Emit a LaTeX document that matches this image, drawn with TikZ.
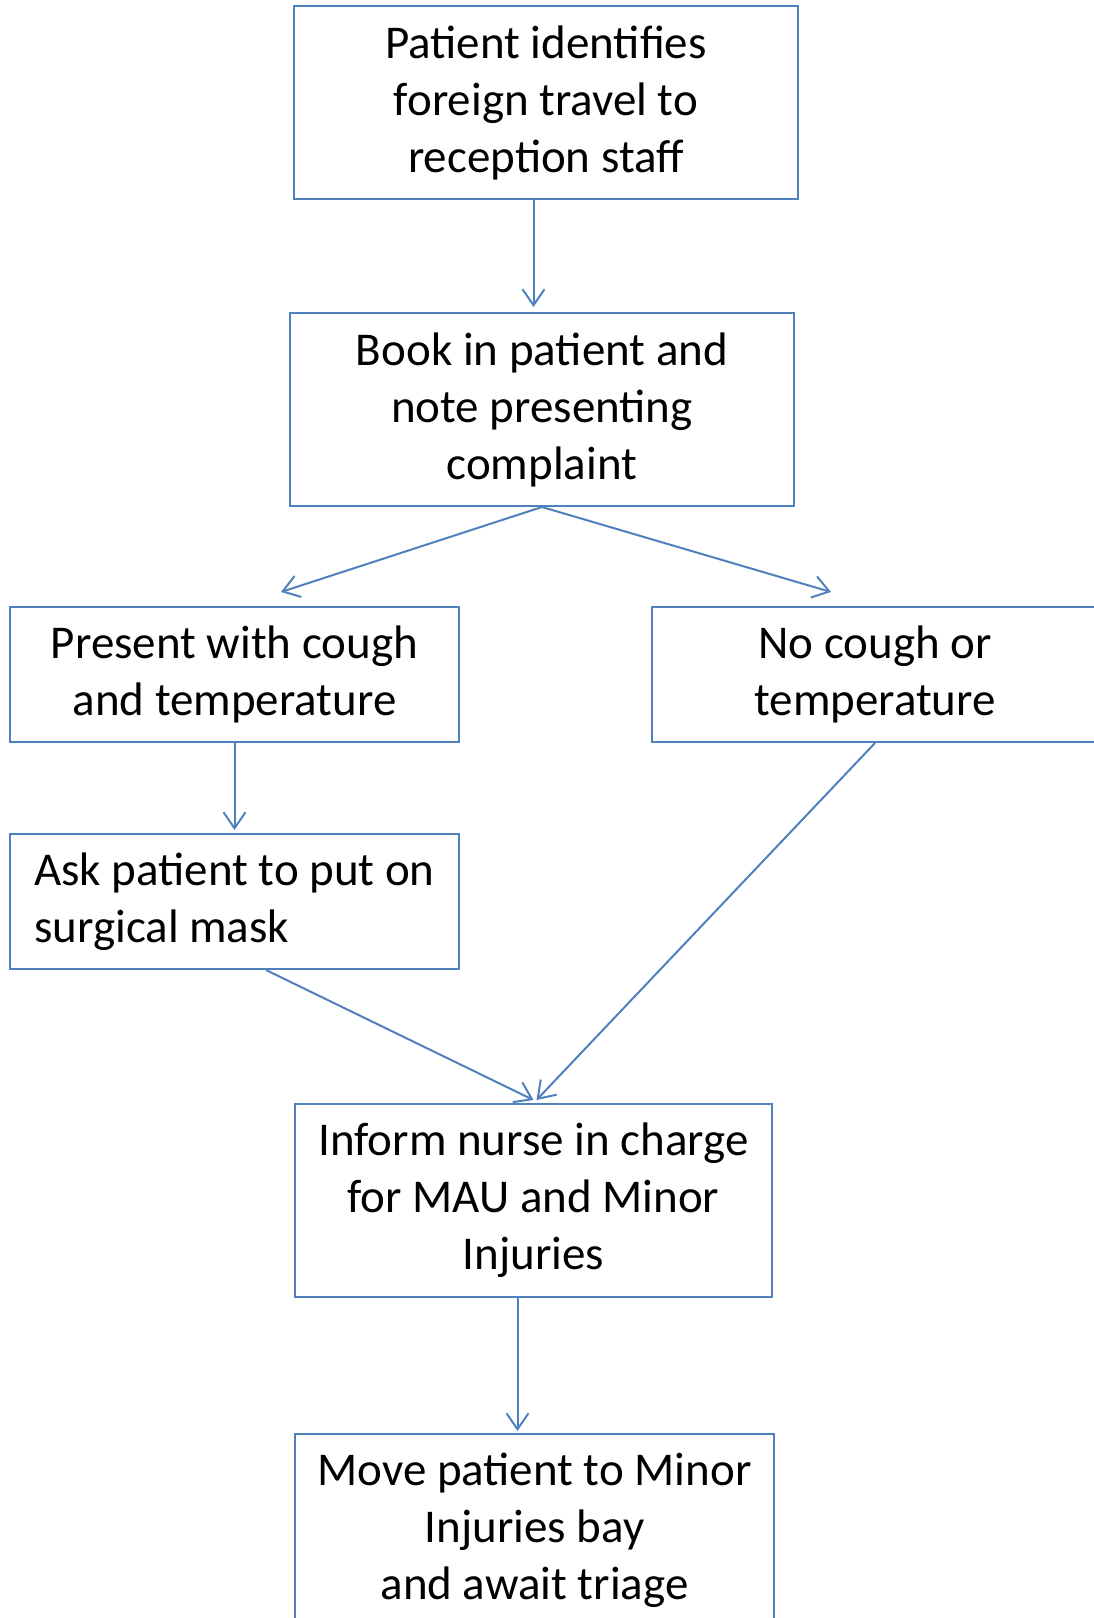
\documentclass[tikz,border=0pt]{standalone}
\usepackage{fontspec}
\setmainfont{Carlito}
\usetikzlibrary{arrows.meta}
\definecolor{officeblue}{HTML}{4F81BD}
\tikzset{
  flowbox/.style={draw=officeblue, line width=2pt, rectangle, inner sep=0pt,
    align=center, font=\fontsize{47}{57}\selectfont, text=black},
  flowarrow/.style={draw=officeblue, line width=2pt,
    -{Straight Barb[length=16pt,width=22pt,line width=2pt]}}
}
\begin{document}
\begin{tikzpicture}[x=1pt,y=-1pt]
  \useasboundingbox (0,0) rectangle (1094,1618);
  \clip (0,0) rectangle (1094,1618);
  \fill[white] (0,0) rectangle (1094,1618);

  % process boxes
  \node[flowbox, minimum width=504pt, minimum height=193pt] (b1) at (546,102.5)
    {Patient identifies\\foreign travel to\\reception staff};
  \node[flowbox, minimum width=504pt, minimum height=193pt] (b2) at (542,409.5)
    {Book in patient and\\note presenting\\complaint};
  \node[flowbox, minimum width=449pt, minimum height=135pt] (b3) at (234.5,674.5)
    {Present with cough\\and temperature};
  \node[flowbox, minimum width=446pt, minimum height=135pt] (b4) at (875,674.5)
    {No cough or\\temperature};
  \node[flowbox, minimum width=449pt, minimum height=135pt, align=left]
    (b5) at (234.5,901.5)
    {Ask patient to put on\\surgical mask};
  \node[flowbox, minimum width=477pt, minimum height=193pt] (b6) at (533.5,1200.5)
    {Inform nurse in charge\\for MAU and Minor\\Injuries};
  \node[flowbox, minimum width=479pt, minimum height=193pt] (b7) at (534.5,1530.5)
    {Move patient to Minor\\Injuries bay\\and await triage};

  % connectors
  \draw[flowarrow] ([xshift=-12.5pt]b1.south) -- ([xshift=-12.5pt,yshift=5pt]b1.south |- b2.north);
  \draw[flowarrow] (b2.south) -- ([xshift=46.5pt,yshift=14pt]b3.north);
  \draw[flowarrow] (b2.south) -- ([xshift=-44pt,yshift=14pt]b4.north);
  \draw[flowarrow] (b3.south) -- ([yshift=3pt]b3.south |- b5.north);
  \draw[flowarrow] ([xshift=31.5pt]b5.south) -- ([yshift=3pt]b6.north);
  \draw[flowarrow] (b4.south) -- ([xshift=3pt,yshift=3pt]b6.north);
  \draw[flowarrow] ([xshift=-16pt]b6.south) -- ([xshift=-16pt,yshift=2pt]b6.south |- b7.north);
\end{tikzpicture}
\end{document}
